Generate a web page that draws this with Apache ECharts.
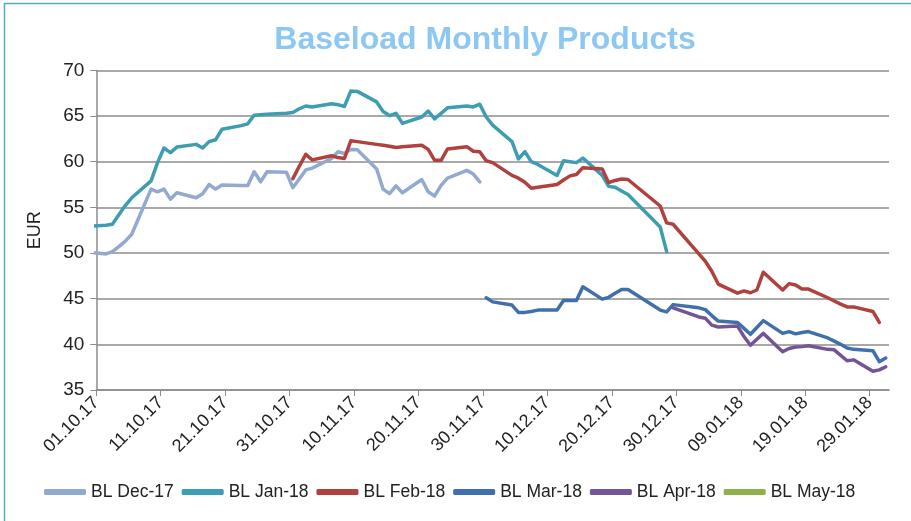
<!DOCTYPE html>
<html>
<head>
<meta charset="utf-8">
<title>Baseload Monthly Products</title>
<script src="https://cdn.jsdelivr.net/npm/echarts@6/dist/echarts.min.js"></script>
<style>
  html, body { margin: 0; padding: 0; background: #fff; }
  #chart { width: 911px; height: 521px; }
</style>
</head>
<body>
<div id="chart"></div>
<script>
// days counted from 01.10.17 (day 0), one entry per trading day
// first point of Dec/Jan is Fri 29.09.17 and gets clipped by the axis
const decDays = [-2, 1, 2, 3, 4, 5, 8, 9, 10, 11, 12, 15, 16, 17, 18, 19, 22, 23, 24, 25, 26, 29, 30, 31, 32, 33, 36, 37, 38, 39, 40, 43, 44, 45, 46, 47, 50, 51, 52, 53, 54, 57, 58, 59];
const decVals = [50.1, 49.9, 50.15, 50.7, 51.3, 52.05, 57.0, 56.7, 57.0, 55.9, 56.6, 56.05, 56.5, 57.5, 57.0, 57.45, 57.4, 57.4, 58.9, 57.8, 58.9, 58.85, 57.15, 58.1, 59.1, 59.3, 60.35, 61.1, 60.9, 61.35, 61.3, 59.2, 57.0, 56.5, 57.35, 56.6, 58.05, 56.7, 56.25, 57.4, 58.2, 59.05, 58.65, 57.8];

const janDays = [-2, 1, 2, 3, 4, 5, 8, 9, 10, 11, 12, 15, 16, 17, 18, 19, 22, 23, 24, 25, 26, 29, 30, 31, 32, 33, 36, 37, 38, 39, 40, 43, 44, 45, 46, 47, 50, 51, 52, 53, 54, 57, 58, 59, 60, 61, 64, 65, 66, 67, 68, 71, 72, 73, 74, 75, 78, 79, 80, 81, 82, 87, 88];
const janVals = [52.9, 53.05, 53.15, 54.2, 55.2, 56.05, 57.9, 59.9, 61.5, 61.0, 61.6, 61.9, 61.5, 62.2, 62.4, 63.55, 63.95, 64.15, 65.1, 65.15, 65.2, 65.3, 65.4, 65.8, 66.1, 66.0, 66.35, 66.25, 66.05, 67.75, 67.7, 66.55, 65.5, 65.05, 65.3, 64.2, 64.9, 65.55, 64.7, 65.3, 65.9, 66.1, 66.0, 66.3, 64.9, 64.0, 62.2, 60.3, 61.1, 60.0, 59.7, 58.5, 60.1, 60.0, 59.9, 60.4, 58.5, 57.3, 57.2, 56.8, 56.4, 52.85, 50.15];

const febDays = [30, 31, 32, 33, 36, 37, 38, 39, 40, 43, 44, 45, 46, 47, 50, 51, 52, 53, 54, 57, 58, 59, 60, 61, 64, 65, 66, 67, 68, 71, 72, 73, 74, 75, 78, 79, 80, 81, 82, 87, 88, 89, 93, 94, 95, 96, 99, 100, 101, 102, 103, 106, 107, 108, 109, 110, 113, 114, 115, 116, 117, 120, 121];
const febVals = [58.15, 59.5, 60.8, 60.2, 60.65, 60.45, 60.35, 62.3, 62.2, 61.9, 61.8, 61.7, 61.55, 61.65, 61.8, 61.35, 60.15, 60.15, 61.4, 61.65, 61.15, 61.1, 60.1, 59.9, 58.5, 58.2, 57.75, 57.1, 57.2, 57.5, 58.0, 58.45, 58.6, 59.35, 59.2, 57.7, 57.95, 58.1, 58.05, 55.15, 53.3, 53.15, 49.9, 49.1, 48.0, 46.6, 45.6, 45.85, 45.65, 45.95, 47.9, 45.95, 46.65, 46.5, 46.05, 46.05, 45.1, 44.75, 44.4, 44.1, 44.1, 43.6, 42.4];

const marDays = [60, 61, 64, 65, 66, 67, 68, 71, 72, 73, 74, 75, 78, 79, 80, 81, 82, 87, 88, 89, 93, 94, 95, 96, 99, 100, 101, 102, 103, 106, 107, 108, 109, 110, 113, 114, 115, 116, 117, 120, 121, 122];
const marVals = [45.1, 44.65, 44.3, 43.5, 43.5, 43.6, 43.75, 43.75, 44.8, 44.8, 44.8, 46.3, 44.95, 45.15, 45.6, 46.0, 46.0, 43.75, 43.55, 44.35, 44.0, 43.8, 43.15, 42.55, 42.4, 41.75, 41.1, 41.85, 42.6, 41.2, 41.4, 41.15, 41.3, 41.4, 40.7, 40.35, 40.0, 39.6, 39.45, 39.3, 38.1, 38.5];

const aprDays = [89, 93, 94, 95, 96, 99, 100, 101, 102, 103, 106, 107, 108, 109, 110, 113, 114, 115, 116, 117, 120, 121, 122];
const aprVals = [44.0, 43.0, 42.85, 42.1, 41.9, 42.0, 40.85, 39.9, 40.55, 41.2, 39.2, 39.55, 39.7, 39.75, 39.85, 39.45, 39.4, 38.8, 38.2, 38.3, 37.05, 37.2, 37.55];

const mayDays = [];
const mayVals = [];

// tick labels every 10 days: 01.10.17 ... 29.01.18
const tickDays = [0, 10, 20, 30, 40, 50, 60, 70, 80, 90, 100, 110, 120];

const FONT = "'Liberation Sans', Arial, sans-serif";

function pad(n) {
  return n < 10 ? "0" + n : "" + n;
}
function dayLabel(v) {
  const d = new Date(2017, 9, 1 + Math.round(v));
  return pad(d.getDate()) + "." + pad(d.getMonth() + 1) + "." + String(d.getFullYear()).slice(2);
}
// each trading day sits in the middle of its day slot
function toPoints(days, vals) {
  return days.map((d, i) => [d + 0.5, vals[i]]);
}

function lineSeries(name, color, days, vals) {
  return {
    name: name,
    type: "line",
    data: toPoints(days, vals),
    showSymbol: false,
    symbol: "none",
    clip: true,
    color: color,
    lineStyle: { width: 3.5, color: color, cap: "round", join: "round" },
  };
}

const chart = echarts.init(document.getElementById("chart"));
chart.setOption({
  animation: false,
  backgroundColor: "#fff",
  graphic: [
    {
      type: "rect",
      shape: { x: 4.5, y: 3.5, width: 1000, height: 1000 },
      style: { fill: "none", stroke: "#4bacc6", lineWidth: 1.5 },
    },
  ],
  title: {
    text: "Baseload Monthly Products",
    left: 480,
    textAlign: "center",
    top: 19,
    textStyle: { color: "#8dc8f3", fontSize: 32, fontWeight: "bold", fontFamily: FONT },
  },
  legend: {
    left: 39,
    top: 478,
    itemGap: 8,
    itemWidth: 42,
    itemHeight: 6,
    icon: "roundRect",
    textStyle: { color: "#222", fontSize: 17.5, fontFamily: FONT },
    data: ["BL Dec-17", "BL Jan-18", "BL Feb-18", "BL Mar-18", "BL Apr-18", "BL May-18"],
  },
  grid: { left: 96.3, right: 22, top: 70.4, bottom: 131 },
  xAxis: {
    type: "value",
    min: 0,
    max: 123,
    interval: 10,
    axisLine: { lineStyle: { color: "#8c8c8c", width: 1.5 } },
    axisTick: { show: true, length: 6, customValues: tickDays, lineStyle: { color: "#8c8c8c" } },
    axisLabel: {
      customValues: tickDays,
      rotate: 45,
      margin: 10,
      color: "#222",
      fontSize: 18,
      fontFamily: FONT,
      formatter: dayLabel,
    },
    splitLine: { show: false },
  },
  yAxis: {
    type: "value",
    min: 35,
    max: 70,
    interval: 5,
    name: "EUR",
    nameLocation: "middle",
    nameRotate: 90,
    nameGap: 52,
    nameTextStyle: { color: "#222", fontSize: 18, fontFamily: FONT },
    axisLine: { show: true, lineStyle: { color: "#8c8c8c", width: 1.5 } },
    axisTick: { show: true, length: 6, lineStyle: { color: "#8c8c8c" } },
    axisLabel: { margin: 12, color: "#222", fontSize: 19, fontFamily: FONT },
    splitLine: { lineStyle: { color: "#8c8c8c", width: 1.5 } },
  },
  series: [
    lineSeries("BL Dec-17", "#92a9d0", decDays, decVals),
    lineSeries("BL Jan-18", "#3d9db3", janDays, janVals),
    lineSeries("BL Feb-18", "#b0413e", febDays, febVals),
    lineSeries("BL Mar-18", "#4070ab", marDays, marVals),
    lineSeries("BL Apr-18", "#735596", aprDays, aprVals),
    lineSeries("BL May-18", "#8fb04b", mayDays, mayVals),
  ],
});
</script>
</body>
</html>
